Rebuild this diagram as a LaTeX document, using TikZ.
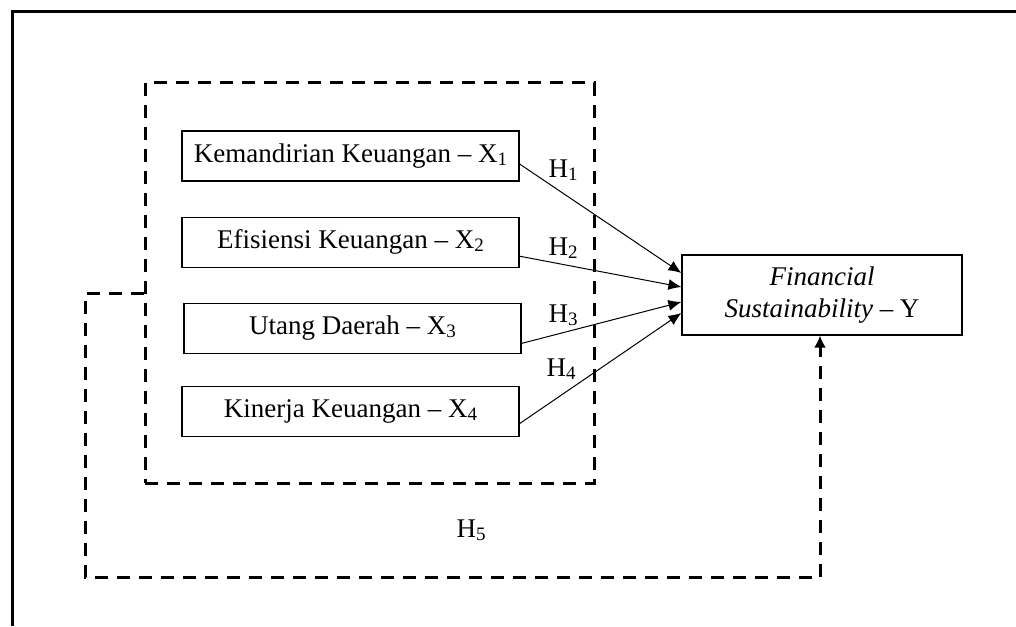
\documentclass[tikz,border=0pt]{standalone}
\usepackage{fontspec}
\setmainfont{Liberation Serif}
\usetikzlibrary{positioning,arrows.meta}
\newcommand{\idx}[1]{\raisebox{-0.25ex}{\fontsize{9.5}{10}\selectfont #1}}
\tikzstyle{var}=[rectangle,draw,line width=0.6pt,minimum width=168.5pt,minimum height=25pt,inner sep=0pt,font=\fontsize{13.5}{16}\selectfont]
\tikzstyle{dep}=[var,minimum width=140pt,minimum height=40pt,align=center]
\tikzstyle{grp}=[rectangle,draw,line width=1.5pt,dash pattern=on 6.5pt off 4.5pt,minimum width=224.5pt,minimum height=200pt,inner sep=0pt]
\tikzstyle{arr}=[-{Latex[length=6.5pt,width=5.5pt]},line width=0.5pt]
\tikzstyle{back}=[line width=1.5pt,dash pattern=on 6.5pt off 4.5pt,-{Latex[length=6pt,width=6pt]}]
\tikzstyle{hyp}=[font=\fontsize{13.5}{16}\selectfont]

\begin{document}
\begin{tikzpicture}[x=0.5pt,y=-0.5pt,node distance=17.5pt]
\useasboundingbox (0,0) rectangle (1016,626);
% frame (cut off at right and bottom)
\draw[line width=1.5pt] (12,626) |- (1016,12);
% independent variables
\node[grp] (G) at (369.5,283) {};
\node[var] (x1) at (350.5,156) {Kemandirian Keuangan -- X\idx{1}};
\node[var, below=of x1] (x2) {Efisiensi Keuangan -- X\idx{2}};
\node[var, below=of x2, xshift=1pt] (x3) {Utang Daerah -- X\idx{3}};
\node[var, below=16pt of x3, xshift=-1pt] (x4) {Kinerja Keuangan -- X\idx{4}};
% dependent variable
\node[dep] (y) at (822,295) {\textit{Financial}\\\textit{Sustainability} -- Y};
% hypotheses
\node[hyp] (h1) at (563,170) {H\idx{1}};
\node[hyp] (h2) at (563,248) {H\idx{2}};
\node[hyp] (h3) at (563,315) {H\idx{3}};
\node[hyp] (h4) at (561,369) {H\idx{4}};
\node[hyp] (h5) at (471,530) {H\idx{5}};
\draw[arr] ([yshift=-4pt]x1.east) -- ([yshift=11pt]y.west);
\draw[arr] ([yshift=-7pt]x2.east) -- ([yshift=4pt]y.west);
\draw[arr] ([yshift=-7.5pt]x3.east) -- ([yshift=-3.5pt]y.west);
\draw[arr] ([yshift=-6pt]x4.east) -- ([yshift=-9pt]y.west);
\draw[back] ([yshift=-5pt]G.west) -| (85,577) -| ([xshift=-1pt]y.south);
\end{tikzpicture}
\end{document}
